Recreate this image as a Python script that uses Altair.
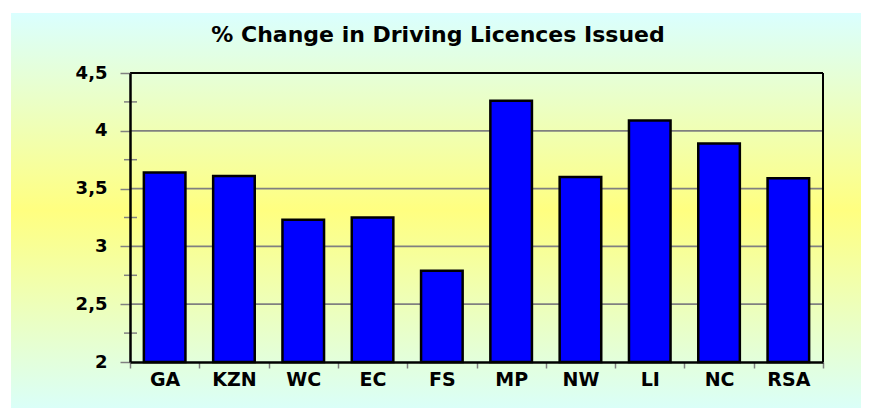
import altair as alt
import pandas as pd

# ---- data ----
regions = ["GA", "KZN", "WC", "EC", "FS", "MP", "NW", "LI", "NC", "RSA"]
values = [3.64, 3.61, 3.23, 3.25, 2.79, 4.26, 3.60, 4.09, 3.89, 3.59]
major_ticks = [2, 2.5, 3, 3.5, 4, 4.5]
grid_values = [2.5, 3, 3.5, 4]
minor_ticks = [2.25, 2.75, 3.25, 3.75, 4.25]
title_text = "% Change in Driving Licences Issued"

W, H = 693, 289
FONT = "DejaVu Sans"
BOTTOM = 46

df = pd.DataFrame({"region": regions, "value": values})
yscale = alt.Scale(domain=[2, 4.5], nice=False, zero=False)
yaxis = alt.Axis(
    values=major_ticks, title=None,
    labelExpr="replace(format(datum.value, '.1~f'), '.', ',')",
    tickColor="#808080", tickWidth=1.5, tickSize=10,
    domainColor="black", domainWidth=2.5,
    labelFont=FONT, labelFontWeight="bold", labelFontSize=18,
    labelColor="black", labelPadding=13, labelOverlap=False,
    grid=False, zindex=1,
)

# background gradient panel (decoration)
bg_bottom = H + BOTTOM
bg = alt.Chart(pd.DataFrame({"k": [0]})).mark_rect(
    fill=alt.Gradient(
        gradient="linear",
        stops=[
            alt.GradientStop(color="#DAFFFF", offset=0),
            alt.GradientStop(color="#FFFF80", offset=0.5),
            alt.GradientStop(color="#DAFFF8", offset=1),
        ],
        x1=0, x2=0, y1=0, y2=1,
    )
).encode(x=alt.value(-119), x2=alt.value(739), y=alt.value(-60), y2=alt.value(bg_bottom))

grid = alt.Chart(pd.DataFrame({"value": grid_values})).mark_rule(
    color="#808080", strokeWidth=1.8
).encode(y=alt.Y("value:Q", scale=yscale, axis=yaxis))

minor = alt.Chart(pd.DataFrame({"value": minor_ticks})).mark_rule(
    color="#808080", strokeWidth=1.5
).encode(y=alt.Y("value:Q", scale=yscale, axis=yaxis), x=alt.value(-6), x2=alt.value(7))

bars = alt.Chart(df).mark_bar(
    color="#0000FF", stroke="black", strokeWidth=2.5,
    width=alt.RelativeBandSize(0.6),
).encode(
    x=alt.X(
        "region:N", sort=regions,
        scale=alt.Scale(paddingInner=0, paddingOuter=0),
        axis=alt.Axis(
            title=None, labelAngle=0, tickBand="extent", tickColor="#808080",
            tickWidth=1.5, tickSize=6, domainColor="black", domainWidth=2.5,
            labelFont=FONT, labelFontWeight="bold", labelFontSize=19,
            labelColor="black", labelPadding=2, grid=False, zindex=1,
        ),
    ),
    y=alt.Y("value:Q", scale=yscale, axis=yaxis),
    y2=alt.datum(2),
)

frame_top = alt.Chart(pd.DataFrame({"k": [0]})).mark_rule(
    color="black", strokeWidth=2
).encode(x=alt.value(0), x2=alt.value(W), y=alt.value(0))

frame_right = alt.Chart(pd.DataFrame({"k": [0]})).mark_rule(
    color="black", strokeWidth=2
).encode(x=alt.value(W), y=alt.value(0), y2=alt.value(H))

title = alt.Chart(pd.DataFrame({"t": [title_text]})).mark_text(
    font=FONT, fontWeight="bold", fontSize=22, align="center",
    baseline="alphabetic", color="black",
).encode(text="t:N", x=alt.value(308), y=alt.value(-30.7))

chart = alt.layer(bg, grid, minor, bars, frame_top, frame_right, title).properties(
    width=W, height=H,
    padding={"left": 122, "top": 65, "right": 38, "bottom": BOTTOM},
    autosize="none",
    background="white",
).configure_view(stroke=None)

chart.save("out.html", embed_options={"renderer": "svg", "actions": False})
